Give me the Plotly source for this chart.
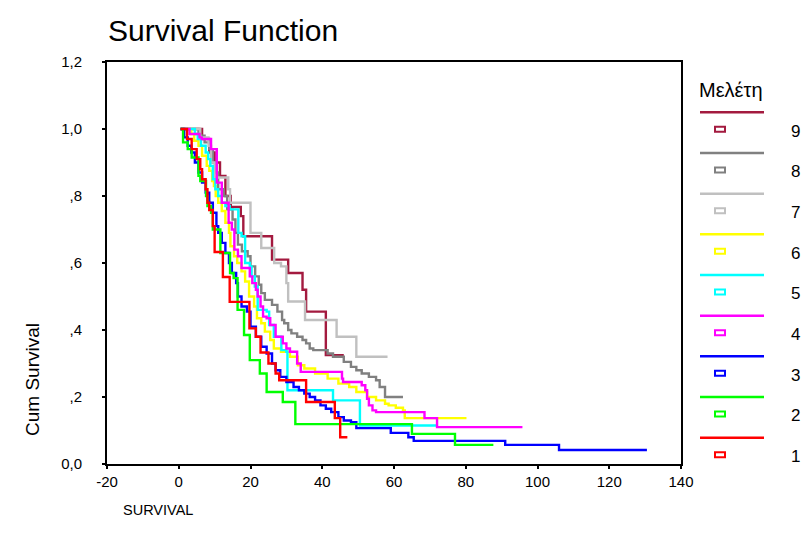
import plotly.graph_objects as go

# ---------------- data (step functions: time, cumulative survival) ----------------
groups = ["9", "8", "7", "6", "5", "4", "3", "2", "1"]
colors = ["#A31A3F", "#808080", "#C0C0C0", "#FFFF00", "#00FFFF",
          "#FF00FF", "#0000FF", "#00FF00", "#FF0000"]

t_9 = [0.5, 6.5, 8.5, 10, 11.5, 13, 14.5, 17.3, 18, 26, 30.5, 34.5, 35.5, 41, 46]
s_9 = [1.0, 0.97, 0.93, 0.90, 0.86, 0.80, 0.767, 0.74, 0.68, 0.61, 0.57, 0.52, 0.455, 0.325, 0.325]

t_8 = [0.5, 5.5, 7.2, 8.5, 9.5, 10.2, 11, 12.5, 13.5, 15, 15.8, 16.5, 17.6, 19.2, 20, 21.3,
       22.3, 23, 24, 26, 27.5, 28.8, 29.4, 30.5, 31.4, 33, 34.5, 35.5, 36.5, 37.5, 41.5,
       43, 46, 48, 49.5, 51, 53, 55, 56, 57.5, 62.5]
s_8 = [1.0, 0.98, 0.96, 0.94, 0.90, 0.87, 0.82, 0.80, 0.76, 0.73, 0.69, 0.655, 0.635, 0.62,
       0.59, 0.56, 0.535, 0.51, 0.49, 0.475, 0.455, 0.43, 0.42, 0.40, 0.39, 0.38, 0.37,
       0.36, 0.345, 0.34, 0.33, 0.32, 0.305, 0.29, 0.28, 0.27, 0.26, 0.25, 0.23, 0.20, 0.20]

t_7 = [0.5, 6, 8.3, 9, 10, 13.8, 14.3, 20, 23, 26.6, 28.5, 30, 30.5, 35.2, 44, 49.5, 58.2]
s_7 = [1.0, 0.975, 0.95, 0.90, 0.855, 0.82, 0.78, 0.69, 0.645, 0.60, 0.59, 0.54, 0.485,
       0.43, 0.38, 0.32, 0.32]

t_6 = [0.5, 3.5, 4.3, 5.5, 6.5, 7.8, 8.5, 9.3, 9.8, 10.3, 11, 12, 13, 14, 14.4, 15.4, 16.3,
       17.5, 18.5, 19.6, 21, 21.8, 23, 24, 25.5, 26.5, 28.5, 31, 33.2, 35, 38, 41.5, 44.5,
       47.5, 49.5, 52.5, 55, 57.5, 58.5, 60.5, 62.5, 63, 80.2]
s_6 = [1.0, 0.985, 0.965, 0.95, 0.92, 0.89, 0.875, 0.845, 0.83, 0.80, 0.78, 0.755, 0.72,
       0.69, 0.65, 0.62, 0.60, 0.575, 0.545, 0.50, 0.47, 0.435, 0.42, 0.395, 0.37, 0.345,
       0.335, 0.32, 0.295, 0.285, 0.27, 0.255, 0.24, 0.23, 0.215, 0.20, 0.19, 0.18, 0.175,
       0.168, 0.16, 0.137, 0.137]

t_5 = [0.5, 4.5, 5.3, 6.2, 7.5, 8.2, 8.8, 9.5, 10.2, 11, 12, 13, 14.2, 16.6, 17.5, 18.5,
       19.8, 20.3, 21.2, 22, 24.5, 25.2, 26.5, 28.6, 30, 30.3, 43, 50.5, 72]
s_5 = [1.0, 0.985, 0.97, 0.95, 0.93, 0.91, 0.89, 0.85, 0.82, 0.80, 0.78, 0.77, 0.76, 0.69,
       0.68, 0.60, 0.59, 0.56, 0.53, 0.46, 0.455, 0.415, 0.38, 0.34, 0.335, 0.22, 0.19,
       0.115, 0.115]

t_4 = [0.5, 3, 5.8, 6.4, 9, 10.6, 12, 13.9, 14.8, 15.5, 16.5, 17.5, 19.8, 20.5, 21.5, 22,
       22.8, 23.5, 24.5, 25.5, 27, 29, 30, 31, 33, 34, 45.5, 45.8, 51, 52, 52.5, 53, 54, 55,
       68.5, 72, 95.8]
s_4 = [1.0, 0.985, 0.975, 0.97, 0.94, 0.84, 0.78, 0.72, 0.70, 0.64, 0.62, 0.585, 0.56,
       0.54, 0.52, 0.50, 0.47, 0.44, 0.435, 0.415, 0.38, 0.36, 0.345, 0.335, 0.30, 0.275,
       0.255, 0.245, 0.235, 0.22, 0.195, 0.175, 0.16, 0.155, 0.137, 0.11, 0.11]

t_3 = [0.5, 1.5, 2.5, 3.5, 4.5, 5.5, 6.5, 7.5, 8.5, 9.5, 10.5, 11, 12, 13, 14, 14.8, 16,
       16.5, 17.5, 19, 20, 21.5, 23, 24.5, 26, 27, 28.3, 30, 32, 33.5, 35, 36.5, 38, 39.5,
       41, 42.5, 44.5, 46, 48, 49.5, 59.1, 64, 65.5, 91, 106, 130.5]
s_3 = [1.0, 0.975, 0.95, 0.93, 0.90, 0.87, 0.84, 0.81, 0.78, 0.75, 0.71, 0.69, 0.66, 0.63,
       0.60, 0.57, 0.54, 0.50, 0.47, 0.455, 0.41, 0.38, 0.35, 0.33, 0.30, 0.28, 0.26, 0.245,
       0.23, 0.22, 0.21, 0.20, 0.19, 0.175, 0.165, 0.155, 0.14, 0.13, 0.125, 0.107, 0.093,
       0.08, 0.069, 0.057, 0.042, 0.042]

t_2 = [0.5, 1.2, 2.5, 3.6, 5.5, 6, 7.6, 8, 9, 9.5, 11.6, 14.3, 15.3, 16.4, 18.2, 19.8, 22.6,
       24.5, 29, 32.5, 65, 77, 87.7]
s_2 = [1.0, 0.96, 0.94, 0.915, 0.86, 0.845, 0.80, 0.77, 0.75, 0.70, 0.63, 0.57, 0.555,
       0.46, 0.385, 0.31, 0.27, 0.215, 0.185, 0.119, 0.09, 0.057, 0.057]

t_1 = [0.5, 2.3, 3.6, 5, 6, 6.5, 7.5, 8, 8.5, 9.5, 10, 12.3, 14.2, 19.7, 21.5, 22.8, 25, 27,
       28, 35.5, 43.5, 45, 47]
s_1 = [1.0, 0.97, 0.94, 0.91, 0.88, 0.85, 0.82, 0.78, 0.758, 0.71, 0.633, 0.558, 0.484,
       0.405, 0.38, 0.333, 0.30, 0.27, 0.25, 0.185, 0.137, 0.08, 0.08]

times = [t_9, t_8, t_7, t_6, t_5, t_4, t_3, t_2, t_1]
surv = [s_9, s_8, s_7, s_6, s_5, s_4, s_3, s_2, s_1]

x_ticks = [-20, 0, 20, 40, 60, 80, 100, 120, 140]
y_ticks = [0.0, 0.2, 0.4, 0.6, 0.8, 1.0, 1.2]
y_tick_text = ["0,0", ",2", ",4", ",6", ",8", "1,0", "1,2"]

title_text = "Survival Function"
x_title = "SURVIVAL"
y_title = "Cum Survival"
legend_title = "Μελέτη"

# ---------------- figure ----------------
W, H = 801, 544
L, R, T, B = 107, 681, 62, 464
FONT = "Liberation Sans, Arial, sans-serif"

fig = go.Figure()
for g, c, tt, ss in zip(groups, colors, times, surv):
    fig.add_trace(go.Scatter(x=tt, y=ss, mode="lines", line=dict(color=c, width=2.4, shape="hv"),
                             name=g, showlegend=False, hoverinfo="skip"))


def px(p):
    return (p - L) / (R - L)


def py(p):
    return (B - p) / (B - T)


shapes = []
annotations = []
# custom legend
annotations.append(dict(x=px(731), y=py(90), xref="paper", yref="paper", text=legend_title,
                        showarrow=False, font=dict(size=20, color="black", family=FONT),
                        xanchor="center", yanchor="middle"))
for i, (g, c) in enumerate(zip(groups, colors)):
    ly = 112.3 + 40.67 * i
    shapes.append(dict(type="line", xref="paper", yref="paper", x0=px(700), x1=px(764),
                       y0=py(ly), y1=py(ly), line=dict(color=c, width=2.5)))
    my = ly + 17
    shapes.append(dict(type="rect", xref="paper", yref="paper", x0=px(715), x1=px(725),
                       y0=py(my - 2.5), y1=py(my + 2.5), line=dict(color=c, width=2),
                       fillcolor="white"))
    annotations.append(dict(x=px(795), y=py(my + 2), xref="paper", yref="paper", text=g,
                            showarrow=False, font=dict(size=17, color="black", family=FONT),
                            xanchor="center", yanchor="middle"))

annotations.append(dict(x=px(106), y=py(31), xref="paper", yref="paper", text=title_text,
                        showarrow=False, font=dict(size=30, color="black", family=FONT),
                        xanchor="left", yanchor="middle"))
annotations.append(dict(x=px(121), y=py(510), xref="paper", yref="paper", text=x_title,
                        showarrow=False, font=dict(size=14.5, color="black", family=FONT),
                        xanchor="left", yanchor="middle"))
annotations.append(dict(x=px(32), y=py(380), xref="paper", yref="paper", text=y_title,
                        showarrow=False, textangle=-90,
                        font=dict(size=19, color="black", family=FONT),
                        xanchor="center", yanchor="middle"))

fig.update_layout(
    width=W, height=H,
    margin=dict(l=L, r=W - R, t=T, b=H - B, pad=0),
    paper_bgcolor="white", plot_bgcolor="white",
    font=dict(family=FONT, size=15, color="black"),
    showlegend=False,
    shapes=shapes, annotations=annotations,
    xaxis=dict(range=[-20, 140], tickvals=x_ticks, ticktext=[str(v) for v in x_ticks],
               showgrid=False, zeroline=False, showline=True, linecolor="black", linewidth=2,
               mirror=True, ticks="outside", ticklen=3, tickwidth=2, tickcolor="black",
               tickfont=dict(size=15, family=FONT), ticklabelstandoff=0),
    yaxis=dict(range=[0, 1.2], tickvals=y_ticks, ticktext=y_tick_text,
               showgrid=False, zeroline=False, showline=True, linecolor="black", linewidth=2,
               mirror=True, ticks="outside", ticklen=3, tickwidth=2, tickcolor="black",
               tickfont=dict(size=15, family=FONT), ticklabelstandoff=17),
)

fig.write_html("out.html", config={"displayModeBar": False},
               post_script="document.body.style.margin='0px';document.body.style.overflow='hidden';")
